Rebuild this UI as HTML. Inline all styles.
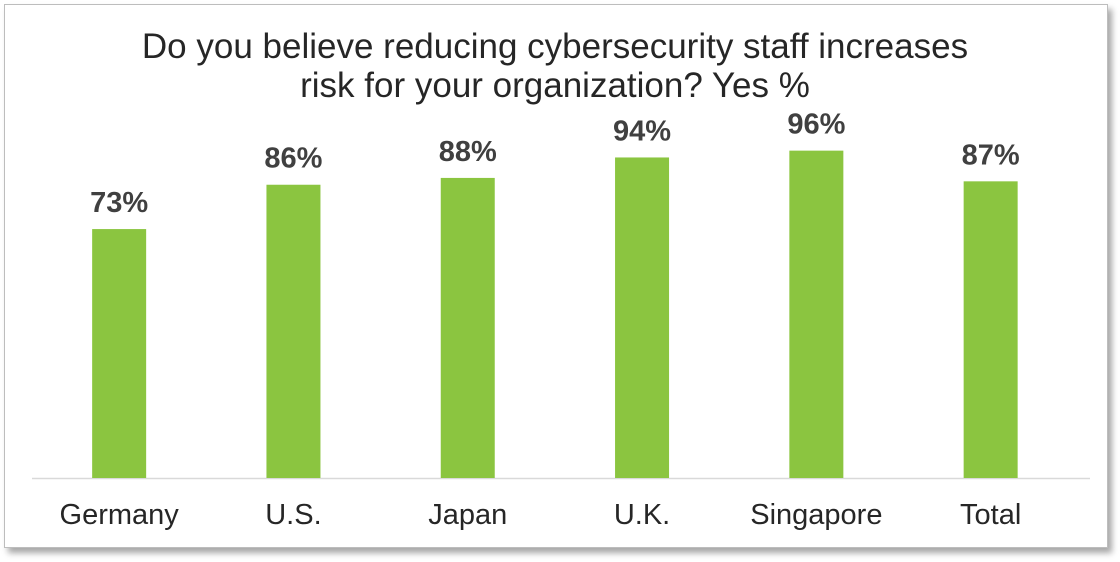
<!DOCTYPE html>
<html><head><meta charset="utf-8"><style>
body{margin:0;width:1120px;height:562px;background:#fff;overflow:hidden;font-family:"Liberation Sans",sans-serif}
#frame{position:absolute;left:4px;top:4px;width:1102px;height:542px;border:1px solid #bdbdbd;background:#fff;box-shadow:4px 5px 6px rgba(0,0,0,0.35)}
</style></head><body>
<div id="frame"></div>
<svg id="chart" width="1120" height="562" style="position:absolute;left:0;top:0">
<text x="555" y="58" text-anchor="middle" font-size="35" fill="#262626">Do you believe reducing cybersecurity staff increases</text>
<text x="555" y="97" text-anchor="middle" font-size="35" fill="#262626">risk for your organization? Yes %</text>
<line x1="32" y1="478.5" x2="1090" y2="478.5" stroke="#d9d9d9" stroke-width="1.5"/>
<g id="bars"></g>
</svg>
<script>
const categories = ["Germany","U.S.","Japan","U.K.","Singapore","Total"];
const values = [73,86,88,94,96,87];
const valueLabels = ["73%","86%","88%","94%","96%","87%"];
const ns="http://www.w3.org/2000/svg";
const g=document.getElementById('bars');
const x0=32, step=174.3, barW=54, baseY=478;
function xCenter(i){return x0+step*(i+0.5);}
function yScale(v){return baseY - v*3.41;}
categories.forEach((c,i)=>{
  const cx=xCenter(i), y=yScale(values[i]);
  const r=document.createElementNS(ns,'rect');
  r.setAttribute('x',cx-barW/2);r.setAttribute('y',y);r.setAttribute('width',barW);r.setAttribute('height',baseY-y);r.setAttribute('fill','#8bc540');
  
  
  g.appendChild(r);
  const t=document.createElementNS(ns,'text');
  t.setAttribute('x',cx);t.setAttribute('y',y-17);t.setAttribute('text-anchor','middle');t.setAttribute('font-size','29');t.setAttribute('font-weight','bold');t.setAttribute('fill','#404040');
  t.textContent=valueLabels[i];
  
  
  g.appendChild(t);
  const l=document.createElementNS(ns,'text');
  l.setAttribute('x',cx);l.setAttribute('y',524);l.setAttribute('text-anchor','middle');l.setAttribute('font-size','29');l.setAttribute('fill','#262626');
  l.textContent=c;
  
  
  g.appendChild(l);
});
</script>
</body></html>
